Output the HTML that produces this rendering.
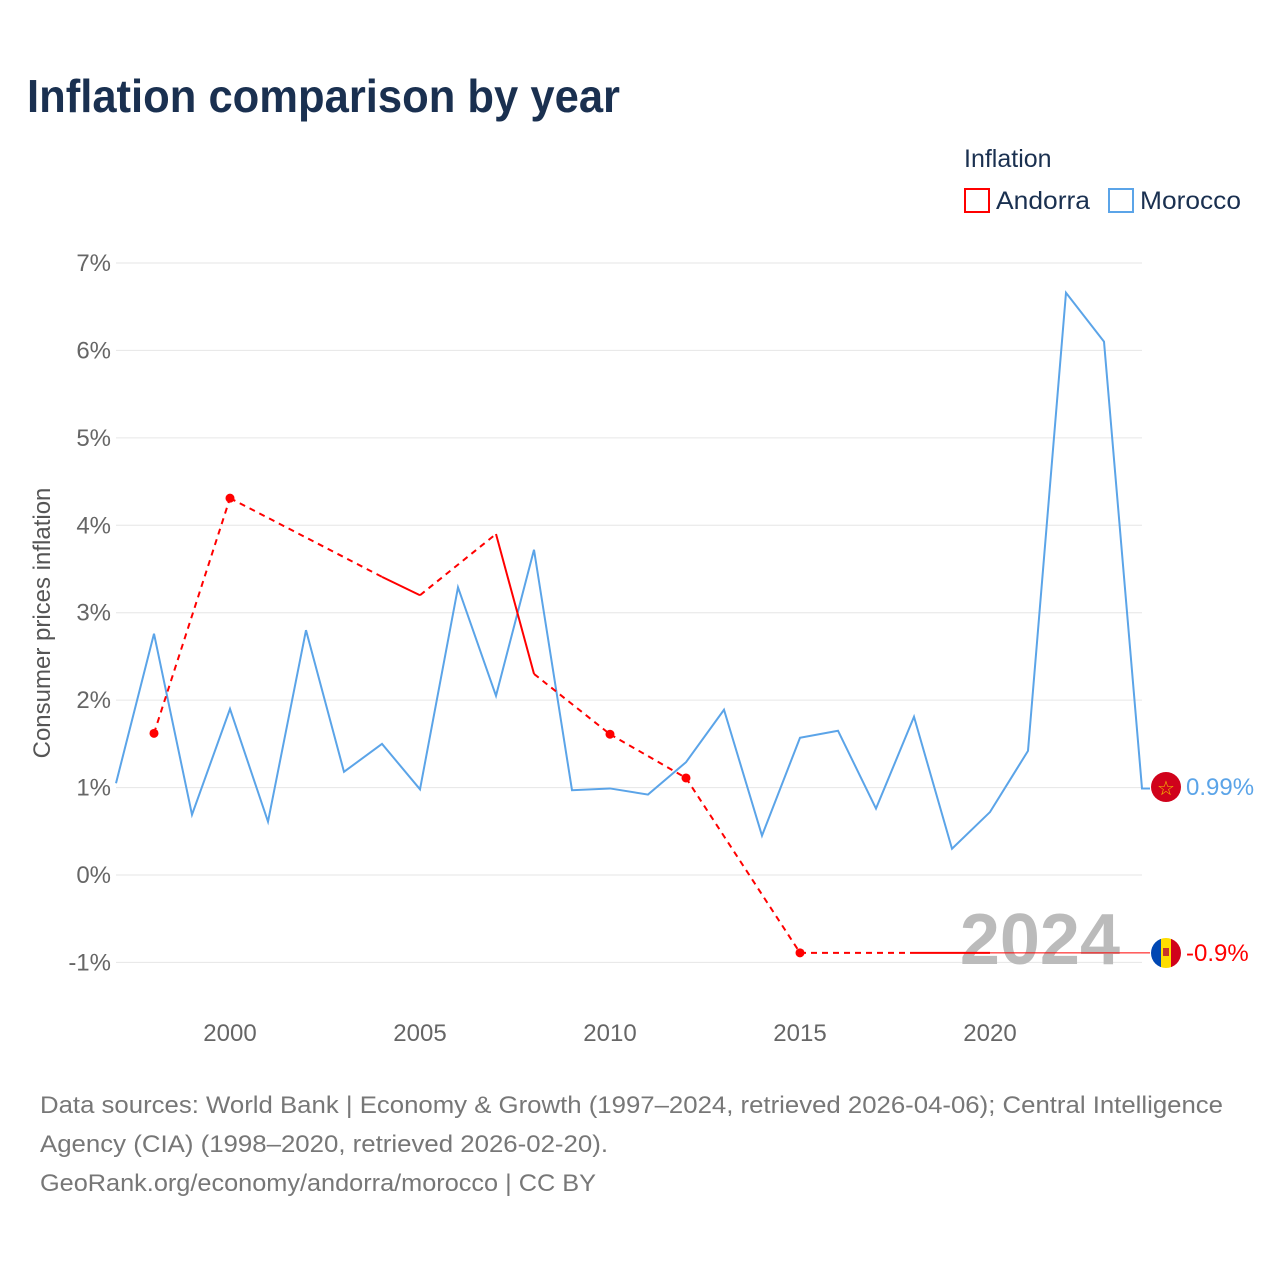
<!DOCTYPE html>
<html><head><meta charset="utf-8"><style>
body{margin:0;background:#fff;font-family:"Liberation Sans",sans-serif}
svg text{font-family:"Liberation Sans",sans-serif}
</style></head><body>
<svg width="1280" height="1280" xmlns="http://www.w3.org/2000/svg" id="chart">
<text x="27" y="112" font-size="46" font-weight="bold" fill="#1a3050" textLength="593" lengthAdjust="spacingAndGlyphs">Inflation comparison by year</text>
<g>
<text x="964" y="167" font-size="25" fill="#1a3050">Inflation</text>
<g><rect x="965" y="189" width="24" height="23" fill="none" stroke="#f00" stroke-width="2"/><text x="996" y="209" font-size="25" fill="#1a3050" textLength="94" lengthAdjust="spacingAndGlyphs">Andorra</text></g>
<g><rect x="1109" y="189" width="24" height="23" fill="none" stroke="#5ba4e8" stroke-width="2"/><text x="1140" y="209" font-size="25" fill="#1a3050" textLength="101" lengthAdjust="spacingAndGlyphs">Morocco</text></g>
</g>
<g id="grid"></g>
<g id="yticks"></g>
<g id="xticks"></g>
<text transform="translate(50,623) rotate(-90)" text-anchor="middle" font-size="24" fill="#555">Consumer prices inflation</text>
<text x="1120" y="964" text-anchor="end" font-size="72" font-weight="bold" fill="#bbb">2024</text>
<g id="series"></g>
<g>
<circle cx="1166" cy="787" r="15" fill="#d0021b"/><text x="1166" y="795" text-anchor="middle" font-size="20" fill="#f5c400">☆</text>
<text x="1186" y="795" font-size="24" fill="#5ba4e8">0.99%</text></g>
<g>
<clipPath id="cl"><circle cx="1166" cy="953" r="15"/></clipPath>
<g clip-path="url(#cl)"><rect x="1151" y="938" width="10" height="30" fill="#0047b3"/><rect x="1161" y="938" width="10" height="30" fill="#fedd00"/><rect x="1171" y="938" width="10" height="30" fill="#d0021b"/><rect x="1163" y="948" width="6" height="8" fill="#c7352b"/></g>
<text x="1186" y="961" font-size="24" fill="#f00">-0.9%</text></g>
<g font-size="24" fill="#777">
<text x="40" y="1113" textLength="1183" lengthAdjust="spacingAndGlyphs">Data sources: World Bank | Economy &amp; Growth (1997–2024, retrieved 2026-04-06); Central Intelligence</text>
<text x="40" y="1152" textLength="568" lengthAdjust="spacingAndGlyphs">Agency (CIA) (1998–2020, retrieved 2026-02-20).</text>
<text x="40" y="1191" textLength="556" lengthAdjust="spacingAndGlyphs">GeoRank.org/economy/andorra/morocco | CC BY</text></g>
</svg>
<script>
const years=[1997,1998,1999,2000,2001,2002,2003,2004,2005,2006,2007,2008,2009,2010,2011,2012,2013,2014,2015,2016,2017,2018,2019,2020,2021,2022,2023,2024];
const morocco=[1.05,2.76,0.69,1.90,0.61,2.80,1.18,1.50,0.98,3.29,2.05,3.72,0.97,0.99,0.92,1.29,1.89,0.45,1.57,1.65,0.76,1.81,0.30,0.72,1.42,6.66,6.10,0.99];
const andorra=[null,1.62,null,4.31,null,null,null,3.41,3.20,null,3.90,2.30,null,1.61,null,1.11,null,null,-0.89,null,null,-0.89,-0.89,-0.89,null,null,null,null];
const yTicks=[-1,0,1,2,3,4,5,6,7];
const xTicks=[2000,2005,2010,2015,2020];
const X=y=>116+(y-1997)*38, Y=v=>875-v*87.43;
const NS="http://www.w3.org/2000/svg";
function mk(t,a,p){const e=document.createElementNS(NS,t);for(const k in a)e.setAttribute(k,a[k]);p.appendChild(e);return e;}
const grid=document.getElementById('grid'),yt=document.getElementById('yticks'),xt=document.getElementById('xticks'),S=document.getElementById('series');
yTicks.forEach(v=>{
 const l=mk('line',{x1:116,x2:1142,y1:Y(v),y2:Y(v),stroke:'#e6e6e6','stroke-width':1},grid);
 
 
 const t=mk('text',{x:111,y:Y(v)+8,'text-anchor':'end','font-size':24,fill:'#666'},yt);t.textContent=v+'%';
 
 
});
xTicks.forEach(v=>{
 const t=mk('text',{x:X(v),y:1041,'text-anchor':'middle','font-size':24,fill:'#666'},xt);t.textContent=v;
 
 
});
const mp=mk('polyline',{points:years.map((y,i)=>X(y)+','+Y(morocco[i])).join(' ')+' '+(1150)+','+Y(morocco[morocco.length-1]),fill:'none',stroke:'#5ba4e8','stroke-width':2},S);


const ag=mk('g',{},S);


const idx=andorra.map((v,i)=>v==null?-1:i).filter(i=>i>=0);
for(let k=0;k<idx.length-1;k++){const a=idx[k],b=idx[k+1];
 const attrs={x1:X(years[a]),y1:Y(andorra[a]),x2:X(years[b]),y2:Y(andorra[b]),stroke:'#f00','stroke-width':2};
 if(b-a>1)attrs['stroke-dasharray']='6,5';
 mk('line',attrs,ag);}
idx.forEach(i=>{const prev=i>0&&andorra[i-1]!=null,next=i<andorra.length-1&&andorra[i+1]!=null;
 if(!prev&&!next){const c=mk('circle',{cx:X(years[i]),cy:Y(andorra[i]),r:4.5,fill:'#f00'},ag);
 
 }});
const last=idx[idx.length-1];
mk('line',{x1:X(years[last]),y1:Y(andorra[last]),x2:1150,y2:Y(andorra[last]),stroke:'#f00','stroke-width':1},ag);
</script>
</body></html>
